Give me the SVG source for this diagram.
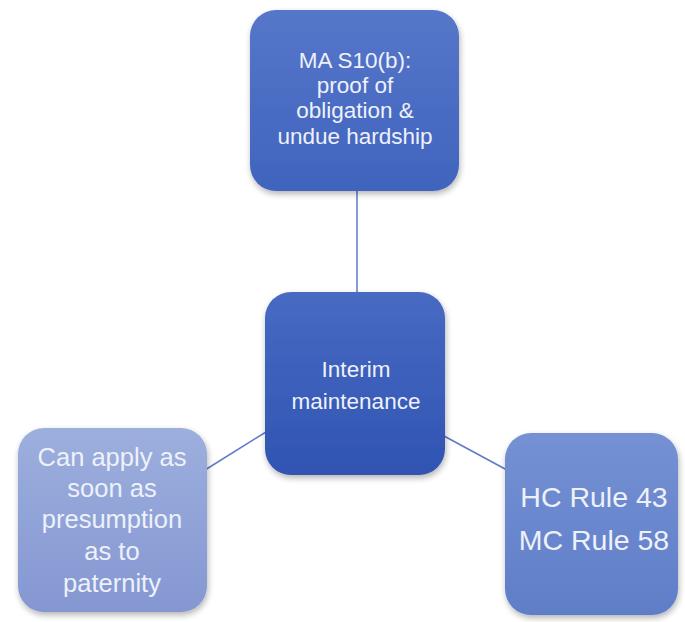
<svg xmlns="http://www.w3.org/2000/svg" width="685" height="622" viewBox="0 0 685 622">
<defs>
<filter id="sh" x="-20%" y="-20%" width="140%" height="140%">
<feGaussianBlur in="SourceAlpha" stdDeviation="3"/>
<feOffset dx="1" dy="3"/>
<feComponentTransfer><feFuncA type="linear" slope="0.3"/></feComponentTransfer>
<feMerge><feMergeNode/><feMergeNode in="SourceGraphic"/></feMerge>
</filter>
<linearGradient id="gTop" x1="0" y1="0" x2="0" y2="1"><stop offset="0" stop-color="#5676ca"/><stop offset="1" stop-color="#4064bd"/></linearGradient>
<linearGradient id="gMid" x1="0" y1="0" x2="0" y2="1"><stop offset="0" stop-color="#476ac3"/><stop offset="1" stop-color="#3054b2"/></linearGradient>
<linearGradient id="gLeft" x1="0" y1="0" x2="0" y2="1"><stop offset="0" stop-color="#9cafdd"/><stop offset="1" stop-color="#8597d2"/></linearGradient>
<linearGradient id="gRight" x1="0" y1="0" x2="0" y2="1"><stop offset="0" stop-color="#7591d4"/><stop offset="1" stop-color="#5f7ec8"/></linearGradient>
</defs>
<style>
.box{filter:url(#sh);}
.t{font-family:"Liberation Sans",Arial,sans-serif;fill:#eef1fa;text-anchor:middle;}
.c{stroke:#5b7bc4;stroke-width:1.5;fill:none;}
</style>
<rect width="685" height="622" fill="#ffffff"/>
<g id="connectors">
<line class="c" x1="357" y1="190" x2="357" y2="293"/>
<line class="c" x1="266" y1="432" x2="205" y2="470"/>
<line class="c" x1="444" y1="436" x2="507" y2="470"/>
</g>
<g id="node-top">
<rect class="box" x="250" y="10" width="209" height="181" rx="26" fill="url(#gTop)"/>
<text class="t" font-size="22.5" x="355" y="68">MA S10(b):</text>
<text class="t" font-size="22.5" x="355" y="93">proof of</text>
<text class="t" font-size="22.5" x="355" y="118">obligation &amp;</text>
<text class="t" font-size="22.5" x="355" y="144">undue hardship</text>
</g>
<g id="node-center">
<rect class="box" x="265" y="292" width="180" height="183" rx="26" fill="url(#gMid)"/>
<text class="t" font-size="22.5" x="356" y="377">Interim</text>
<text class="t" font-size="22.5" x="356" y="409">maintenance</text>
</g>
<g id="node-left">
<rect class="box" x="18" y="428" width="189" height="184" rx="26" fill="url(#gLeft)"/>
<text class="t" font-size="25.5" x="112" y="466">Can apply as</text>
<text class="t" font-size="25.5" x="112" y="497">soon as</text>
<text class="t" font-size="25.5" x="112" y="528">presumption</text>
<text class="t" font-size="25.5" x="112" y="560">as to</text>
<text class="t" font-size="25.5" x="112" y="592">paternity</text>
</g>
<g id="node-right">
<rect class="box" x="505" y="433" width="173" height="182" rx="26" fill="url(#gRight)"/>
<text class="t" font-size="28.5" x="594" y="507">HC Rule 43</text>
<text class="t" font-size="28.5" x="594" y="550">MC Rule 58</text>
</g>
</svg>
